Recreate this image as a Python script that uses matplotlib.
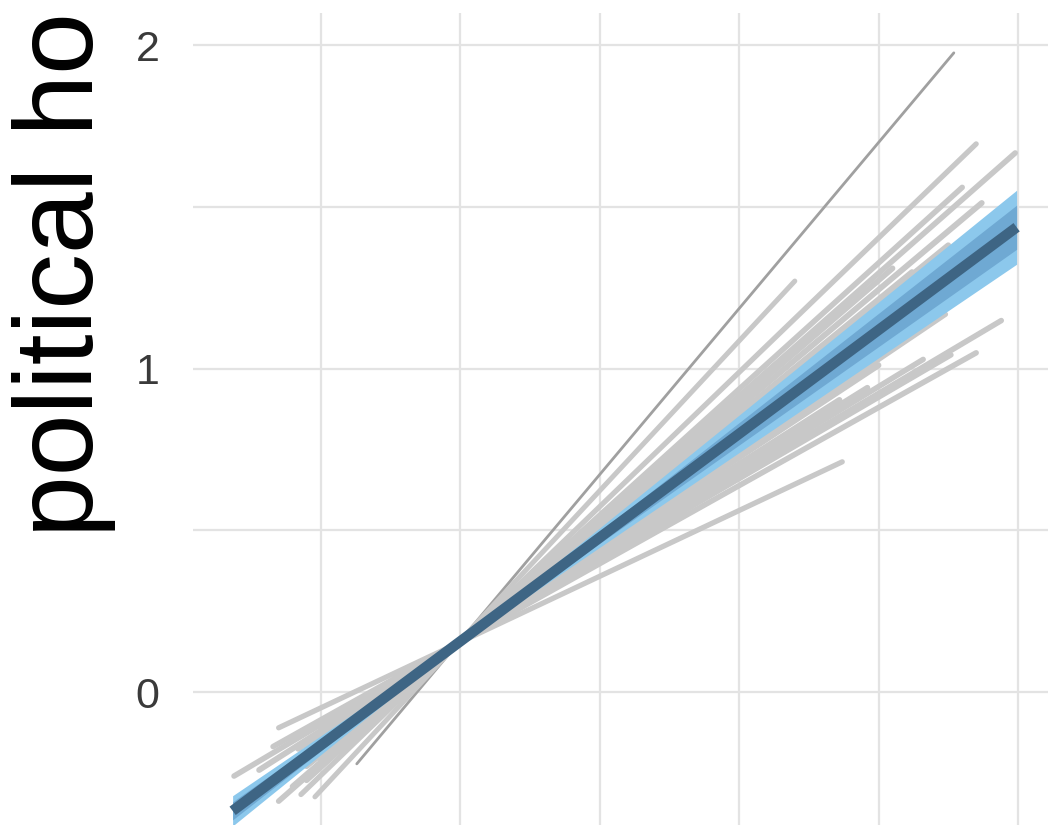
import numpy as np
import matplotlib.pyplot as plt

plt.rcParams['font.family'] = ['Liberation Sans', 'DejaVu Sans']

# group lines: x range, slope, intercept (intercept at x = 0)
grp_xlo = [-0.37, -0.57, -0.52, -0.65, -0.55, -0.50, -0.45, -0.60,
           -0.70, -0.62, -0.40, -0.55, -0.48, -0.58, -0.52,
           -0.55, -0.81, -0.67, -0.60, -0.50, -0.45, -0.72, -0.65]
grp_xhi = [1.77, 1.85, 1.20, 1.99, 1.80, 1.87, 1.62, 1.55,
           1.60, 1.90, 1.45, 1.75, 1.30, 1.50, 1.68,
           1.74, 1.94, 1.85, 1.76, 1.66, 1.46, 1.36, 1.37]
grp_slope = [1.027, 0.831, 0.927, 0.759, 0.780, 0.725, 0.705, 0.745,
             0.62, 0.66, 0.68, 0.70, 0.60, 0.57, 0.59,
             0.582, 0.512, 0.483, 0.504, 0.526, 0.538, 0.550, 0.407]
grp_icpt = [0.158, 0.157, 0.158, 0.156, 0.156, 0.156, 0.156, 0.155,
            0.155, 0.156, 0.156, 0.156, 0.155, 0.155, 0.155,
            0.155, 0.155, 0.155, 0.155, 0.155, 0.155, 0.155, 0.154]
grp_width = [2.0, 3.8, 3.6, 4.0, 4.0, 4.2, 4.2, 4.2,
             4.2, 4.2, 4.2, 4.2, 4.2, 4.2, 4.2,
             3.8, 4.0, 4.0, 3.8, 4.0, 4.2, 4.2, 3.8]

# overall fit
fit_x = [-0.815, 1.995]
fit_slope = 0.642
fit_icpt = 0.156
pivot_x = -0.007
se_outer = 0.057
se_inner = 0.034

fig = plt.figure(figsize=(10.48, 8.25), dpi=100)
ax = fig.add_axes([193/1048, 0, (1048-193)/1048, (825-13)/825])
ax.set_xlim(-0.9570, 2.1075)
ax.set_ylim(-0.4110, 2.0990)

for gx in [-0.5, 0, 0.5, 1, 1.5, 2]:
    ax.axvline(gx, color='#e3e3e3', lw=1.6, zorder=0)
for gy in [0, 0.5, 1, 1.5, 2]:
    ax.axhline(gy, color='#e3e3e3', lw=1.6, zorder=0)

for i in range(len(grp_slope)):
    xs = np.array([grp_xlo[i], grp_xhi[i]])
    ys = grp_icpt[i] + grp_slope[i] * xs
    col = '#a0a0a0' if i == 0 else '#c8c8c8'
    ax.plot(xs, ys, color=col, lw=grp_width[i], solid_capstyle='round', zorder=2)

xf = np.linspace(fit_x[0], fit_x[1], 200)
yf = fit_icpt + fit_slope * xf
d = np.abs(xf - pivot_x)
w_out = np.sqrt(0.008**2 + (se_outer * d)**2)
w_in = np.sqrt(0.005**2 + (se_inner * d)**2)
ax.fill_between(xf, yf - w_out, yf + w_out, color='#8cc8ec', lw=0, zorder=3)
ax.fill_between(xf, yf - w_in, yf + w_in, color='#6fa9d3', lw=0, zorder=4)
ax.plot(xf, yf, color='#3e6584', lw=7.5, solid_capstyle='butt', zorder=5)

ax.set_yticks([0, 1, 2])
ax.set_yticklabels(['0', '1', '2'])
ax.set_xticks([])
ax.tick_params(axis='y', length=0, pad=24, labelsize=31, labelcolor='#3a3a3a')
for s in ax.spines.values():
    s.set_visible(False)

fig.text(93/1048, 1 - 537/825, 'political ho', rotation=90,
         rotation_mode='anchor', ha='left', va='baseline', fontsize=80, color='black')

fig.savefig('out.png', dpi=100)
